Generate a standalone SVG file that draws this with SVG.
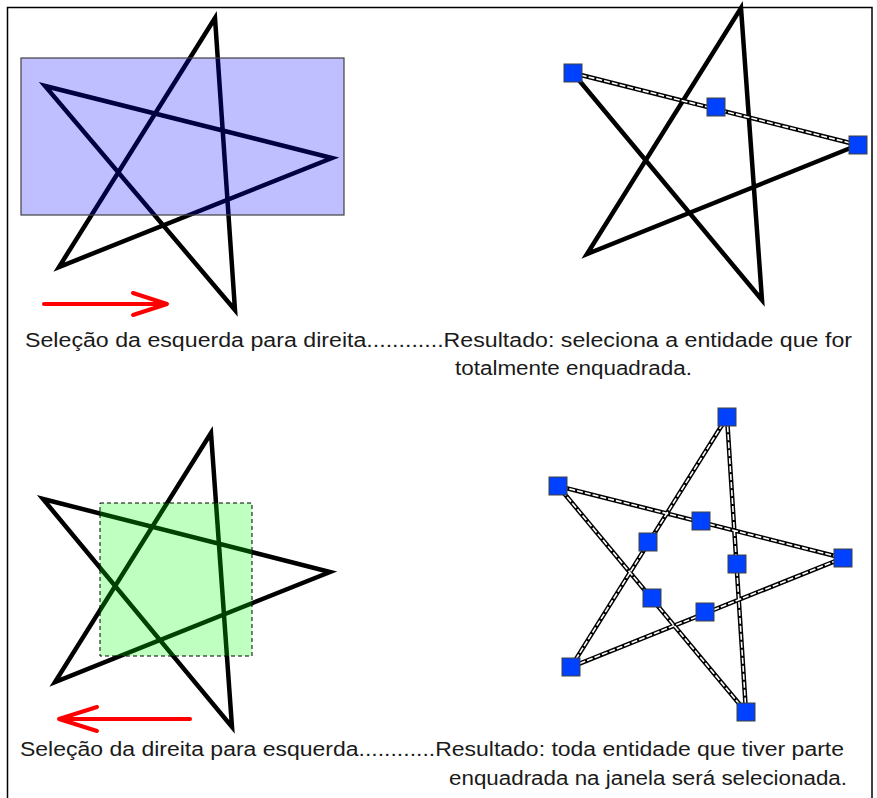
<svg xmlns="http://www.w3.org/2000/svg" width="877" height="798" viewBox="0 0 877 798">
<style>
.star{fill:none;stroke:#000;stroke-width:4.5;stroke-linejoin:miter}
.sel{fill:none;stroke:#000;stroke-width:4.5}
.selw{fill:none;stroke:#fff;stroke-width:1.6;stroke-dasharray:6 2}
.grip{fill:#0040ff;stroke:#404040;stroke-width:1}
.arrow{fill:none;stroke:#ff0000;stroke-width:4;stroke-linecap:round;stroke-linejoin:round}
.lbl{font-family:"Liberation Sans",Arial,sans-serif;font-size:20px;fill:#1a1a1a}
</style>
<rect x="0" y="0" width="877" height="798" fill="#fff"/>
<rect id="frame" x="7.5" y="7.5" width="864.5" height="800" fill="none" stroke="#000" stroke-width="1.5"/>

<g id="star-top-left">
<polygon class="star" points="215,18 59,267 332,158 45,86 235,310"/>
<rect x="21" y="58" width="323" height="157" fill="#0000ff" fill-opacity="0.25" stroke="#404040" stroke-width="1.2"/>
</g>
<g id="arrow-right">
<line class="arrow" x1="44" y1="304" x2="166" y2="304"/>
<polyline class="arrow" points="133,293 167,304 133,315"/>
</g>

<g id="star-top-right">
<polyline class="star" points="573,73 762,300 741,8 587,254 858,145"/>
<line class="sel" x1="573" y1="73" x2="858" y2="145"/>
<line class="selw" x1="573" y1="73" x2="858" y2="145"/>
<rect class="grip" x="564" y="64" width="18" height="18"/>
<rect class="grip" x="707" y="98" width="18" height="18"/>
<rect class="grip" x="849" y="136" width="18" height="18"/>
</g>

<g id="star-bottom-left">
<polygon class="star" points="211,433 55,682 330,572 43,499 232,727"/>
<rect x="100" y="503" width="152" height="153" fill="#00ff00" fill-opacity="0.25" stroke="#000" stroke-width="1" stroke-dasharray="4 3"/>
</g>
<g id="arrow-left">
<line class="arrow" x1="190" y1="719" x2="60" y2="719"/>
<polyline class="arrow" points="97,707 59,719 97,731"/>
</g>

<g id="star-bottom-right">
<polygon class="sel" points="727,417 571,667 843,558 558,486 746,712"/>
<polygon class="selw" points="727,417 571,667 843,558 558,486 746,712"/>
<rect class="grip" x="718" y="408" width="18" height="18"/>
<rect class="grip" x="549" y="477" width="18" height="18"/>
<rect class="grip" x="834" y="549" width="18" height="18"/>
<rect class="grip" x="562" y="658" width="18" height="18"/>
<rect class="grip" x="737" y="703" width="18" height="18"/>
<rect class="grip" x="692" y="512" width="18" height="18"/>
<rect class="grip" x="639" y="533" width="18" height="18"/>
<rect class="grip" x="728" y="555" width="18" height="18"/>
<rect class="grip" x="643" y="589" width="18" height="18"/>
<rect class="grip" x="696" y="603" width="18" height="18"/>
</g>

<g id="labels">
<text class="lbl" x="25" y="347" textLength="827" lengthAdjust="spacingAndGlyphs">Seleção da esquerda para direita............Resultado: seleciona a entidade que for</text>
<text class="lbl" x="455" y="375" textLength="237" lengthAdjust="spacingAndGlyphs">totalmente enquadrada.</text>
<text class="lbl" x="20" y="756" textLength="824" lengthAdjust="spacingAndGlyphs">Seleção da direita para esquerda............Resultado: toda entidade que tiver parte</text>
<text class="lbl" x="449" y="785" textLength="398" lengthAdjust="spacingAndGlyphs">enquadrada na janela será selecionada.</text>
</g>
</svg>
